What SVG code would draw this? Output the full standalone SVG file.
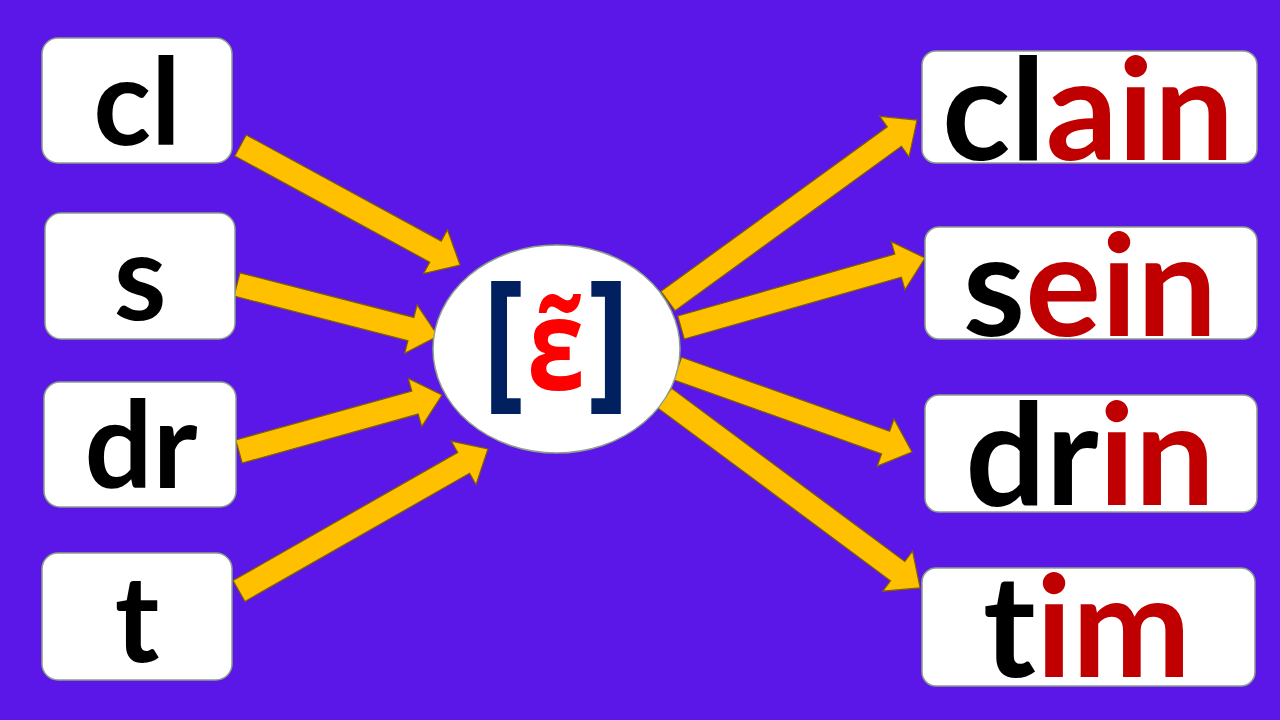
<svg xmlns="http://www.w3.org/2000/svg" width="1280" height="720" viewBox="0 0 1280 720">
<style>
.box{fill:#fff;stroke:#8FA08A;stroke-width:1.5}
.arrow{fill:#FFC000;stroke:#7F6000;stroke-width:1.2;stroke-linejoin:miter}
.lt,.rt{font-family:Lato,"Open Sans","Liberation Sans",sans-serif;font-weight:bold;text-anchor:middle;fill:#000;font-variant-ligatures:none;font-feature-settings:"liga" 0,"clig" 0}
.lt{font-size:120px}
.rt{font-size:142px}
.red{fill:#C00000}
.br{font-family:"Open Sans","Noto Sans",sans-serif;font-weight:bold;font-size:152px;fill:#002060;text-anchor:middle}
.eps{font-family:"Open Sans","Noto Sans",sans-serif;font-weight:bold;font-size:127px;fill:#FF0000;text-anchor:middle}
</style>
<rect x="0" y="0" width="1280" height="720" fill="#5A17E7"/>
<g id="connectors">
<polygon class="arrow" transform="translate(240.5,145.5) rotate(28.56)" points="0,-12 222,-12 222,-25 250,0 222,25 222,12 0,12"/>
<polygon class="arrow" transform="translate(237,284.5) rotate(14.37)" points="0,-12 179.5,-12 179.5,-25 207.5,0 179.5,25 179.5,12 0,12"/>
<polygon class="arrow" transform="translate(239,451.5) rotate(-15.55)" points="0,-12 182.7,-12 182.7,-25 210.7,0 182.7,25 182.7,12 0,12"/>
<polygon class="arrow" transform="translate(239,591) rotate(-29.7)" points="0,-12 258.6,-12 258.6,-25 286.6,0 258.6,25 258.6,12 0,12"/>
<polygon class="arrow" transform="translate(668,301) rotate(-36)" points="0,-12 279.8,-12 279.8,-25 307.8,0 279.8,25 279.8,12 0,12"/>
<polygon class="arrow" transform="translate(681,327.5) rotate(-15.9)" points="0,-12 225.7,-12 225.7,-25 253.7,0 225.7,25 225.7,12 0,12"/>
<polygon class="arrow" transform="translate(677.5,368.5) rotate(19.6)" points="0,-12 220.9,-12 220.9,-25 248.9,0 220.9,25 220.9,12 0,12"/>
<polygon class="arrow" transform="translate(664.5,398) rotate(36.6)" points="0,-12 290.4,-12 290.4,-25 318.4,0 290.4,25 290.4,12 0,12"/>
</g>
<g id="node-cl"><rect class="box" x="42" y="38" width="190" height="125" rx="16"/><text class="lt" x="137" y="145">cl</text></g>
<g id="node-s"><rect class="box" x="45" y="213" width="190" height="126" rx="16"/><text class="lt" x="140" y="320">s</text></g>
<g id="node-dr"><rect class="box" x="44" y="382" width="192" height="125" rx="16"/><text class="lt" x="141" y="488">dr</text></g>
<g id="node-t"><rect class="box" x="42" y="553" width="190" height="127" rx="16"/><text class="lt" x="137" y="662">t</text></g>
<g id="node-center"><ellipse cx="556.5" cy="349" rx="123.5" ry="104" fill="#fff" stroke="#8FA08A" stroke-width="1.5"/>
<text y="390" transform="translate(556,0) scale(0.82,1) translate(-556,0)"><tspan class="br" x="491.4">[</tspan><tspan class="eps" x="556" y="390">ε̃</tspan><tspan class="br" x="620.6" y="390">]</tspan></text></g>
<g id="node-clain"><rect class="box" x="922" y="51" width="335" height="112" rx="14"/><text class="rt" x="1088" y="160">cl<tspan class="red">ain</tspan></text></g>
<g id="node-sein"><rect class="box" x="925" y="227" width="332" height="112" rx="14"/><text class="rt" x="1090" y="336">s<tspan class="red">ein</tspan></text></g>
<g id="node-drin"><rect class="box" x="925" y="395" width="332" height="117" rx="14"/><text class="rt" x="1090" y="505">dr<tspan class="red">in</tspan></text></g>
<g id="node-tim"><rect class="box" x="922" y="568" width="333" height="118" rx="14"/><text class="rt" x="1087" y="677">t<tspan class="red">im</tspan></text></g>
</svg>
